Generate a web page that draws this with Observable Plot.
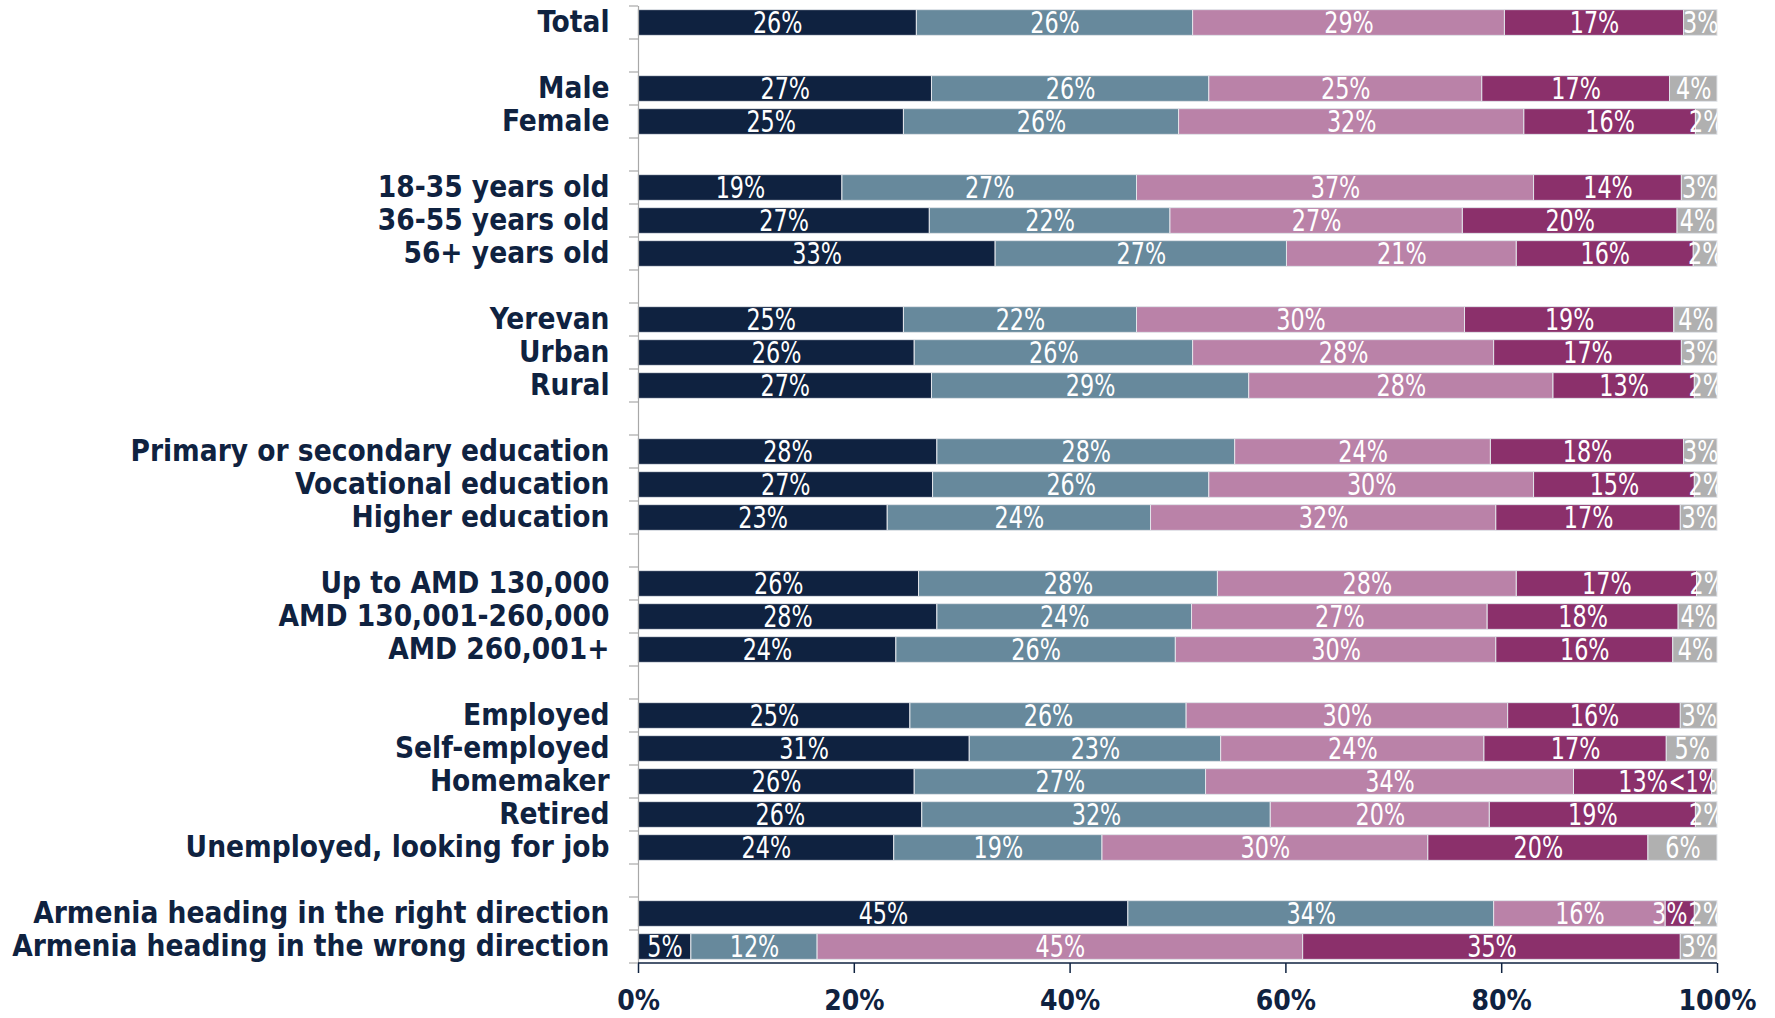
<!DOCTYPE html>
<html>
<head>
<meta charset="utf-8">
<script src="https://cdn.jsdelivr.net/npm/d3@7"></script>
<script src="https://cdn.jsdelivr.net/npm/@observablehq/plot@0.6"></script>
<style>
  html, body { margin: 0; padding: 0; background: #ffffff; }
  #chart svg { display: block; }
</style>
</head>
<body>
<div id="chart"></div>
<script>
// Row labels (null = empty spacer row between groups)
const rowLabels = [
  "Total", null,
  "Male", "Female", null,
  "18-35 years old", "36-55 years old", "56+ years old", null,
  "Yerevan", "Urban", "Rural", null,
  "Primary or secondary education", "Vocational education", "Higher education", null,
  "Up to AMD 130,000", "AMD 130,001-260,000", "AMD 260,001+", null,
  "Employed", "Self-employed", "Homemaker", "Retired", "Unemployed, looking for job", null,
  "Armenia heading in the right direction", "Armenia heading in the wrong direction"
];
const categories = rowLabels.filter(d => d !== null);

const seriesNames = ["Response 1", "Response 2", "Response 3", "Response 4", "Response 5"];
const seriesColors = ["#0f2240", "#67899c", "#ba82a8", "#8b306b", "#b0b0b0"];

// Values (%) per series, in the order of `categories`
const series1 = [25.8, 27.2, 24.6, 18.9, 27.0, 33.1, 24.6, 25.6, 27.2, 27.7, 27.3, 23.1, 26.0, 27.7, 23.9, 25.2, 30.7, 25.6, 26.3, 23.7, 45.4, 4.9];
const series2 = [25.6, 25.7, 25.5, 27.3, 22.3, 27.0, 21.6, 25.8, 29.4, 27.6, 25.6, 24.4, 27.7, 23.6, 25.9, 25.6, 23.3, 27.0, 32.3, 19.3, 33.9, 11.7];
const series3 = [28.9, 25.3, 32.0, 36.8, 27.1, 21.3, 30.4, 27.9, 28.2, 23.7, 30.1, 32.0, 27.7, 27.4, 29.7, 29.8, 24.4, 34.1, 20.3, 30.2, 15.9, 45.0];
const series4 = [16.6, 17.4, 15.9, 13.7, 19.9, 16.4, 19.4, 17.4, 13.1, 17.9, 14.9, 17.1, 16.7, 17.7, 16.4, 16.0, 16.9, 12.8, 19.1, 20.4, 2.7, 35.0];
const series5 = [3.1, 4.4, 2.0, 3.3, 3.7, 2.2, 4.0, 3.3, 2.1, 3.1, 2.1, 3.4, 1.9, 3.6, 4.1, 3.4, 4.7, 0.5, 2.0, 6.4, 2.1, 3.4];

const xTicks = [0, 20, 40, 60, 80, 100];

// ---- build table ----
const seriesValues = [series1, series2, series3, series4, series5];
const data = categories.flatMap((cat, i) =>
  seriesValues.map((vals, j) => ({cat, series: seriesNames[j], value: vals[i]}))
);
const labelOf = v => v < 1 ? "<1%" : Math.round(v) + "%";
const yDomain = rowLabels.map((r, i) => r === null ? `__gap${i}` : r);

const W = 1775, H = 1018;
const navy = "#0f2240";
const labelFont = "'DejaVu Sans Condensed', 'DejaVu Sans', sans-serif";

const chart = Plot.plot({
  width: W,
  height: H,
  marginLeft: 638,
  marginRight: 58,
  marginTop: 6,
  marginBottom: 55,
  style: {background: "#ffffff"},
  x: {domain: [0, 100], axis: null},
  y: {domain: yDomain, paddingInner: 0.22, paddingOuter: 0.11, round: false, axis: null},
  color: {domain: seriesNames, range: seriesColors},
  marks: [
    Plot.barX(data, Plot.stackX({
      x: "value", y: "cat", fill: "series", z: "series",
      stroke: "#e2e5ea", strokeWidth: 1
    })),
    Plot.text(data, Plot.stackX({
      x: "value", y: "cat", z: "series",
      text: d => d.value < 1 ? "" : labelOf(d.value),
      fill: "#ffffff",
      fontFamily: labelFont,
      fontSize: 31,
      clip: true
    })),
    Plot.text(data, Plot.stackX2({
      x: "value", y: "cat", z: "series",
      text: d => d.value < 1 ? labelOf(d.value) : "",
      fill: "#ffffff",
      textAnchor: "end",
      fontFamily: labelFont,
      fontSize: 31,
      clip: true
    })),
    Plot.ruleX([0], {stroke: "#a8a8a8", strokeWidth: 1.2}),
    Plot.axisY({
      tickSize: 0, tickPadding: 29,
      tickFormat: d => d.startsWith("__gap") ? "" : d,
      fontFamily: labelFont,
      fontSize: 29.5, fontWeight: "bold", fill: navy, label: null
    }),
    Plot.axisX({
      ticks: xTicks, tickSize: 10, tickPadding: 17, stroke: navy, strokeWidth: 1.5,
      tickFormat: d => d + "%",
      fontFamily: labelFont,
      fontSize: 28, fontWeight: "bold", fill: navy, label: null
    })
  ]
});

// Band-boundary ticks on the y axis and the x axis base line, from the plot's scales
const ys = chart.scale("y");
const xs = chart.scale("x");
const half = (ys.step - ys.bandwidth) / 2;
const x0 = xs.apply(0), x1 = xs.apply(100);
const svg = d3.select(chart);
const g = svg.append("g").attr("stroke", "#a8a8a8").attr("stroke-width", 1.2);
const bounds = ys.domain.map(k => ys.apply(k) - half);
bounds.push(ys.apply(ys.domain[ys.domain.length - 1]) + ys.bandwidth + half);
bounds.forEach(b => {
  g.append("line").attr("x1", x0 - 9).attr("x2", x0).attr("y1", b).attr("y2", b);
});
const yBottom = bounds[bounds.length - 1];
svg.append("line")
  .attr("x1", x0).attr("x2", x1).attr("y1", yBottom).attr("y2", yBottom)
  .attr("stroke", navy).attr("stroke-width", 1.5);

document.getElementById("chart").appendChild(chart);

// Narrow the white value labels horizontally (the original uses a condensed face)
const isWhite = t => {
  const fill = getComputedStyle(t).fill;
  return fill === "rgb(255, 255, 255)" || fill === "#ffffff" || fill === "white";
};
const valueLabels = Array.from(chart.querySelectorAll("text"))
  .filter(t => (t.textContent || "").trim().endsWith("%") && isWhite(t));
valueLabels.forEach(t => {
  const content = t.textContent.trim();
  const len = t.getComputedTextLength();
  if (len > 0) {
    const k = content.startsWith("<") ? 0.72 : 0.8;
    t.setAttribute("textLength", (len * k).toFixed(1));
    t.setAttribute("lengthAdjust", "spacingAndGlyphs");
  }
});

// Simple collision avoidance: push a label left if it runs into its right neighbour
const rows = d3.groups(
  valueLabels.map(t => ({t, r: t.getBoundingClientRect()})),
  d => Math.round((d.r.top + d.r.bottom) / 2)
);
rows.forEach(([, items]) => {
  items.sort((a, b) => a.r.left - b.r.left);
  for (let i = items.length - 2; i >= 0; i--) {
    const a = items[i], b = items[i + 1];
    const overlap = a.r.right - b.r.left + 1;
    if (overlap > 0) {
      const dx = parseFloat(a.t.getAttribute("dx") || "0") || 0;
      a.t.setAttribute("dx", (dx - overlap).toFixed(1));
      a.r = {left: a.r.left - overlap, right: a.r.right - overlap, top: a.r.top, bottom: a.r.bottom};
    }
  }
});
</script>
</body>
</html>
